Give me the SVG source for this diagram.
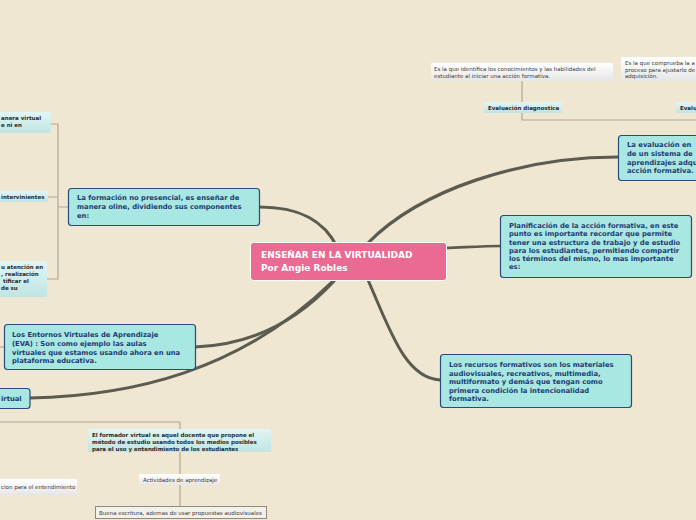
<svg xmlns="http://www.w3.org/2000/svg" width="696" height="520" viewBox="0 0 696 520">
<defs>
<linearGradient id="gT" x1="0" y1="0" x2="0" y2="1"><stop offset="0" stop-color="#e2f5f4"/><stop offset="1" stop-color="#bfe5e3"/></linearGradient>
<linearGradient id="gW" x1="0" y1="0" x2="0" y2="1"><stop offset="0" stop-color="#ffffff"/><stop offset="1" stop-color="#e6e6e6"/></linearGradient>
<style>
.bg{fill:#efe7d1}
.main{fill:#ea6a93;stroke:#ffffff;stroke-width:1}
.mt{font-family:"DejaVu Sans",Verdana,sans-serif;font-weight:bold;font-size:9px;fill:#ffffff}
.bx{fill:#a8e7e2;stroke:#2b4a7d;stroke-width:1.2}
.bt{font-family:"DejaVu Sans",Verdana,sans-serif;font-weight:bold;font-size:6.8px;fill:#1e3b72}
.lt{fill:url(#gT)}
.wt{fill:url(#gW)}
.st{font-family:"DejaVu Sans",Verdana,sans-serif;font-weight:bold;font-size:5.5px;fill:#2a2a2a}
.sr{font-family:"DejaVu Sans",Verdana,sans-serif;font-size:5.5px;fill:#3a3a3a}
.br{fill:none;stroke:#5c5b50;stroke-linecap:round}
.th{fill:none;stroke:#b3a88f;stroke-width:1.2}
</style>
</defs>
<rect class="bg" x="0" y="0" width="696" height="520"/>

<g id="connectors">
<path class="br" stroke-width="3.2" d="M259,207 C302,207 325,222 337,247"/>
<path class="br" stroke-width="3.2" d="M195,347 C255,345 300,318 334,281"/>
<path class="br" stroke-width="3" d="M30,398 C130,396 240,372 333,281"/>
<path class="br" stroke-width="3.2" d="M368,243 C420,190 520,157 618,157"/>
<path class="br" stroke-width="2.6" d="M446,248 C470,247 485,246 500,246"/>
<path class="br" stroke-width="3" d="M368,280 C390,330 405,378 440,380"/>
<path class="th" d="M51,124 H58 V279 H47 M48,197 H58 M58,207 H68"/>
<path class="th" d="M0,347 H4"/>
<path class="th" d="M0,422 H180 V506"/>
<path class="th" d="M522,81 V120 H696"/>
</g>

<g id="n-center">
<rect class="main" x="250.5" y="242.5" width="196" height="38" rx="3"/>
<text class="mt" x="261" y="258">ENSEÑAR EN LA VIRTUALIDAD</text>
<text class="mt" x="261" y="270.5">Por Angie Robles</text>
</g>

<g id="n-formacion">
<rect class="bx" x="68.5" y="188.5" width="191" height="37" rx="3"/>
<text class="bt" x="77" y="200">La formación no presencial, es enseñar de</text>
<text class="bt" x="77" y="209">manera oline, dividiendo sus componentes</text>
<text class="bt" x="77" y="218">en:</text>
</g>

<g id="n-sub1">
<rect class="lt" x="-10" y="112" width="61" height="21" rx="2"/>
<text class="st" x="1" y="120">anera virtual</text>
<text class="st" x="1" y="127">e ni en</text>
</g>
<g id="n-sub2">
<rect class="lt" x="-10" y="191" width="58" height="11" rx="2"/>
<text class="st" x="1" y="199">intervinientes</text>
</g>
<g id="n-sub3">
<rect class="lt" x="-10" y="261" width="57" height="36" rx="2"/>
<text class="st" x="1" y="269">u atención en</text>
<text class="st" x="1" y="276">, realización</text>
<text class="st" x="3" y="283">tificar el</text>
<text class="st" x="1" y="290">de su</text>
</g>

<g id="n-entornos">
<rect class="bx" x="4.5" y="324.5" width="191" height="45" rx="3"/>
<text class="bt" x="12" y="337">Los Entornos Virtuales de Aprendizaje</text>
<text class="bt" x="12" y="346">(EVA) : Son como ejemplo las aulas</text>
<text class="bt" x="12" y="354.5">virtuales que estamos usando ahora en una</text>
<text class="bt" x="12" y="363">plataforma educativa.</text>
</g>

<g id="n-virtual">
<rect class="bx" x="-10" y="388.5" width="40" height="20" rx="3"/>
<text class="bt" x="1" y="401">irtual</text>
</g>

<g id="n-formador">
<rect class="lt" x="88" y="429" width="183" height="23" rx="2"/>
<text class="st" x="92" y="437">El formador virtual es aquel docente que propone el</text>
<text class="st" x="92" y="444">método de estudio usando todos los medios posibles</text>
<text class="st" x="92" y="450.5">para el uso y entendimiento de los estudiantes</text>
</g>

<g id="n-actividades">
<rect class="wt" x="139" y="474" width="81" height="11" rx="1"/>
<text class="sr" x="143" y="481.5">Actividades de aprendizaje</text>
</g>

<g id="n-escritura">
<rect x="95.5" y="506.5" width="171" height="12" fill="#f3f0ea" stroke="#8f8a7e" stroke-width="1"/>
<text class="sr" x="99" y="514.5">Buena escritura, ademas de usar propuestas audiovisuales</text>
</g>

<g id="n-entendimiento">
<rect class="wt" x="-10" y="479" width="87" height="16" rx="1"/>
<text class="sr" x="1" y="489">cion para el entendimiento</text>
</g>

<g id="n-identifica">
<rect class="wt" x="431" y="63" width="182" height="18" rx="1"/>
<text class="sr" x="434" y="71">Es la que identifica los conocimientos y las habilidades del</text>
<text class="sr" x="434" y="77.5">estudiante al iniciar una acción formativa.</text>
</g>

<g id="n-comprueba">
<rect class="wt" x="621" y="57" width="80" height="24" rx="1"/>
<text class="sr" x="625" y="65">Es la que comprueba la a</text>
<text class="sr" x="625" y="71.5">proceso para ajustarlo de</text>
<text class="sr" x="625" y="78">adquisición.</text>
</g>

<g id="n-diagnostica">
<rect class="lt" x="484" y="102" width="78" height="11" rx="1"/>
<text class="st" x="488" y="109.5">Evaluación diagnostica</text>
</g>

<g id="n-eval2">
<rect class="lt" x="676" y="102" width="30" height="11" rx="1"/>
<text class="st" x="680" y="109.5">Evalu</text>
</g>

<g id="n-evaluacion">
<rect class="bx" x="618.5" y="135.5" width="90" height="45" rx="3"/>
<text class="bt" x="627" y="147">La evaluación en</text>
<text class="bt" x="627" y="156">de un sistema de</text>
<text class="bt" x="627" y="164.5">aprendizajes adqu</text>
<text class="bt" x="627" y="173">acción formativa.</text>
</g>

<g id="n-planificacion">
<rect class="bx" x="500.5" y="215.5" width="191" height="62" rx="3"/>
<text class="bt" x="509" y="227.5">Planificación de la acción formativa, en este</text>
<text class="bt" x="509" y="236">punto es importante recordar que permite</text>
<text class="bt" x="509" y="244.5">tener una estructura de trabajo y de estudio</text>
<text class="bt" x="509" y="252.5">para los estudiantes, permitiendo compartir</text>
<text class="bt" x="509" y="261">los términos del mismo, lo mas importante</text>
<text class="bt" x="509" y="269">es:</text>
</g>

<g id="n-recursos">
<rect class="bx" x="440.5" y="354.5" width="191" height="53" rx="3"/>
<text class="bt" x="449" y="367">Los recursos formativos son los materiales</text>
<text class="bt" x="449" y="375.5">audiovisuales, recreativos, multimedia,</text>
<text class="bt" x="449" y="384">multiformato y demás que tengan como</text>
<text class="bt" x="449" y="392.5">primera condición la intencionalidad</text>
<text class="bt" x="449" y="401">formativa.</text>
</g>
</svg>
